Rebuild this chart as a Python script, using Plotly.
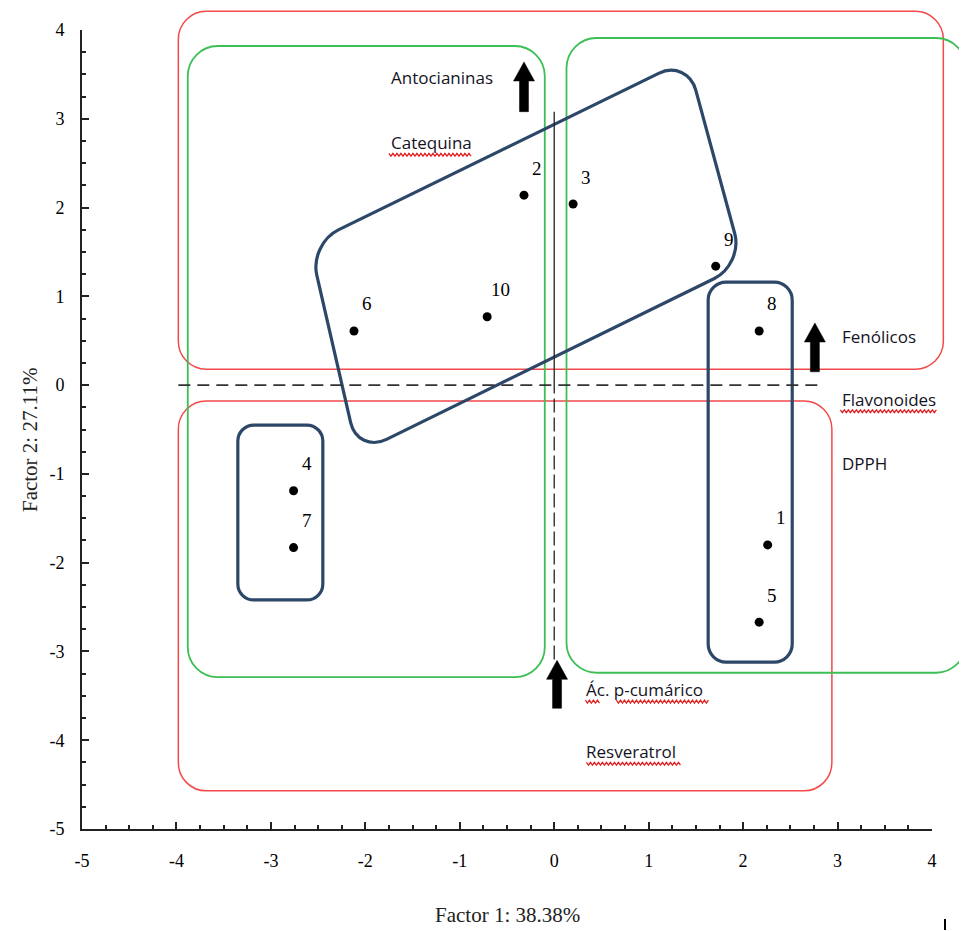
import numpy as np
import plotly.graph_objects as go

# ---------------- data ----------------
sample_ids = ["1", "2", "3", "4", "5", "6", "7", "8", "9", "10"]
factor1 = [2.26, -0.32, 0.20, -2.76, 2.17, -2.12, -2.76, 2.17, 1.71, -0.71]
factor2 = [-1.80, 2.14, 2.04, -1.19, -2.67, 0.61, -1.83, 0.61, 1.34, 0.77]

x_ticks = [-5, -4, -3, -2, -1, 0, 1, 2, 3, 4]
y_ticks = [-5, -4, -3, -2, -1, 0, 1, 2, 3, 4]
x_title = "Factor 1: 38.38%"
y_title = "Factor 2: 27.11%"

# variable labels (text, x, y, wavy-underline segments as (start offset px, length px))
var_labels = ["Antocianinas", "Catequina", "Fenólicos", "Flavonoides", "DPPH",
              "Ác. p-cumárico", "Resveratrol"]
var_x = [-1.75, -1.75, 3.03, 3.03, 3.03, 0.32, 0.32]
var_y = [3.46, 2.73, 0.55, -0.16, -0.88, -3.43, -4.13]
var_underline = [[], [(0, 83)], [], [(0, 97)], [], [(1, 15), (32, 92)], [(2, 94)]]

# direction arrows (x, tail y, head y)
arrow_x = [-0.32, 2.76, 0.03]
arrow_tail = [3.08, 0.15, -3.64]
arrow_head = [3.64, 0.70, -3.10]

# group boxes: (x0, y0, x1, y1)
red_boxes = [(-3.98, 0.18, 4.12, 4.21), (-3.98, -4.57, 2.94, -0.18)]
green_boxes = [(-3.88, -3.29, -0.10, 3.82), (0.13, -3.24, 4.36, 3.91)]
navy_boxes = [(-3.35, -2.42, -2.45, -0.45), (1.63, -3.12, 2.52, 1.16)]
navy_tilted = [(-2.59, 1.59), (1.41, 3.67), (2.00, 1.36), (-2.08, -0.77)]

# ---------------- geometry helpers ----------------
BODY = 8                      # default page margin of the html body
W, H = 967 - BODY, 931 - BODY
ML, MR, MT, MB = 82 - BODY, 35, 30 - BODY, 102
PW, PH = W - ML - MR, H - MT - MB
XR, YR = (-5, 4), (-5, 4)


def to_px(x, y):
    return (ML + (x - XR[0]) / (XR[1] - XR[0]) * PW,
            MT + (YR[1] - y) / (YR[1] - YR[0]) * PH)


def fmt(p):
    return f"{(p[0] - ML) / PW:.5f},{(H - MB - p[1]) / PH:.5f}"


def rounded_path(corners, r):
    pts = [np.array(to_px(*c)) for c in corners]
    n = len(pts)
    segs = []
    for i in range(n):
        p, prv, nxt = pts[i], pts[i - 1], pts[(i + 1) % n]
        a = p + (prv - p) / np.linalg.norm(prv - p) * r
        b = p + (nxt - p) / np.linalg.norm(nxt - p) * r
        segs.append((a, p, b))
    k = 0.552
    d = "M" + fmt(segs[0][2])
    for i in range(1, n + 1):
        a, p, b = segs[i % n]
        c1 = a + (p - a) * k
        c2 = b + (p - b) * k
        d += f" L{fmt(a)} C{fmt(c1)} {fmt(c2)} {fmt(b)}"
    return d + " Z"


def rect_corners(b):
    x0, y0, x1, y1 = b
    return [(x0, y1), (x1, y1), (x1, y0), (x0, y0)]


def arrow_path(x, yt, yh, sw=4.5, hw=10.5, hl=19):
    px, pt = to_px(x, yt)
    _, ph = to_px(x, yh)
    pts = [(px - sw, pt), (px - sw, ph + hl), (px - hw, ph + hl), (px, ph),
           (px + hw, ph + hl), (px + sw, ph + hl), (px + sw, pt)]
    return "M" + " L".join(fmt(p) for p in pts) + " Z"


def wavy_path(x0, x1, y, amp=1.4, step=2.0):
    pts = []
    xs = np.arange(x0, x1 + 0.01, step)
    for i, xx in enumerate(xs):
        pts.append((xx, y + (amp if i % 2 else -amp)))
    return "M" + " L".join(fmt(p) for p in pts)


# ---------------- figure ----------------
fig = go.Figure()

fig.add_trace(go.Scatter(
    x=factor1, y=factor2, mode="markers",
    marker=dict(color="black", size=9),
    hoverinfo="text", text=sample_ids, showlegend=False))

shapes = []
for b in red_boxes:
    shapes.append(dict(type="path", xref="paper", yref="paper",
                       path=rounded_path(rect_corners(b), 28),
                       line=dict(color="#f24a4a", width=1.5)))
for b in green_boxes:
    shapes.append(dict(type="path", xref="paper", yref="paper",
                       path=rounded_path(rect_corners(b), 30),
                       line=dict(color="#3cbf55", width=1.8)))
shapes.append(dict(type="path", xref="paper", yref="paper",
                   path=rounded_path(navy_tilted, 32),
                   line=dict(color="#2d4769", width=3.2)))
for b, r in zip(navy_boxes, [16, 18]):
    shapes.append(dict(type="path", xref="paper", yref="paper",
                       path=rounded_path(rect_corners(b), r),
                       line=dict(color="#2d4769", width=3.2)))

# reference axes lines
shapes.append(dict(type="line", xref="x", yref="y", x0=-3.98, x1=2.85, y0=0, y1=0,
                   line=dict(color="#333333", width=1.7, dash="12px,7px")))
shapes.append(dict(type="line", xref="x", yref="y", x0=0.0, x1=0.0, y0=0, y1=3.08,
                   line=dict(color="#222222", width=1.3)))
shapes.append(dict(type="line", xref="x", yref="y", x0=0.0, x1=0.0, y0=-3.09, y1=0,
                   line=dict(color="#222222", width=1.3, dash="14px,5px")))

for x, yt, yh in zip(arrow_x, arrow_tail, arrow_head):
    shapes.append(dict(type="path", xref="paper", yref="paper",
                       path=arrow_path(x, yt, yh),
                       fillcolor="black", line=dict(color="black", width=0.5)))

annotations = []
for sid, x, y in zip(sample_ids, factor1, factor2):
    annotations.append(dict(x=x, y=y, xref="x", yref="y", text=sid, showarrow=False,
                            xshift=13, yshift=27,
                            font=dict(family="Liberation Serif", size=19, color="black")))

for t, x, y, ul in zip(var_labels, var_x, var_y, var_underline):
    annotations.append(dict(x=x, y=y, xref="x", yref="y", text=t, showarrow=False,
                            xanchor="left", yanchor="middle",
                            font=dict(family="Open Sans", size=17, color="#15131f")))
    lx, ly = to_px(x, y)
    for off, ln in ul:
        shapes.append(dict(type="path", xref="paper", yref="paper",
                           path=wavy_path(lx + off, lx + off + ln, ly + 12),
                           line=dict(color="#e02020", width=1.3)))

annotations.append(dict(x=0.5, y=-0.108, xref="paper", yref="paper", text=x_title,
                        showarrow=False, xanchor="center", yanchor="middle",
                        font=dict(family="Liberation Serif", size=21, color="#222")))
annotations.append(dict(x=-0.061, y=0.487, xref="paper", yref="paper", text=y_title,
                        showarrow=False, xanchor="center", yanchor="middle", textangle=-90,
                        font=dict(family="Liberation Serif", size=21, color="#222")))

# stray mark at bottom right
sx = (945 - BODY - ML) / PW
shapes.append(dict(type="line", xref="paper", yref="paper",
                   x0=sx, x1=sx,
                   y0=(H - MB - (919 - BODY)) / PH, y1=(H - MB - (H - 1)) / PH,
                   line=dict(color="black", width=2)))

axis_common = dict(showgrid=False, zeroline=False, showline=True, linecolor="#222",
                   linewidth=2, ticks="inside", ticklen=7, tickwidth=2, tickcolor="#222",
                   tickfont=dict(family="Liberation Serif", size=18, color="black"),
                   minor=dict(ticks="inside", ticklen=4, tickwidth=1.5, tickcolor="#222",
                              dtick=0.25, showgrid=False),
                   fixedrange=True)

fig.update_layout(
    width=W, height=H,
    margin=dict(l=ML, r=MR, t=MT, b=MB),
    paper_bgcolor="white", plot_bgcolor="white",
    xaxis=dict(range=list(XR), tickvals=x_ticks, ticktext=[str(v) for v in x_ticks],
               ticklabelstandoff=14, **axis_common),
    yaxis=dict(range=list(YR), tickvals=y_ticks, ticktext=[str(v) for v in y_ticks],
               ticklabelstandoff=12, **axis_common),
    shapes=shapes, annotations=annotations, showlegend=False)

fig.write_html("out.html")
